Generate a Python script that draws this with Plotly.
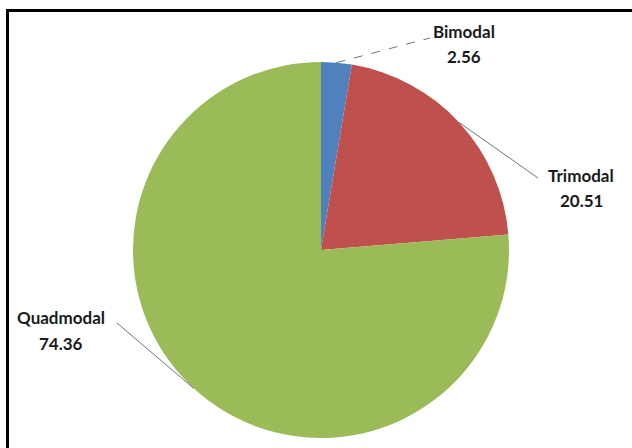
import math
import plotly.graph_objects as go

labels = ["Bimodal", "Trimodal", "Quadmodal"]
values = [2.56, 20.51, 74.36]
colors = ["#4F81BD", "#C0504D", "#9BBB59"]

W, H = 632, 448
cx, cy, r = 321, 250, 188  # pie centre / radius in px

# label positions (px): name centre, value centre, leader-line end, dash style
label_pos = {
    "Bimodal": (464, 31, 57, (430, 38), "dash"),
    "Trimodal": (581, 175, 200, (538, 178), "solid"),
    "Quadmodal": (61, 317, 343, (117, 323), "solid"),
}

def px(x):
    return x / W

def py(y):
    return 1 - y / H

fig = go.Figure(go.Pie(
    labels=labels, values=values, sort=False, direction="clockwise", rotation=0,
    marker=dict(colors=colors, line=dict(width=0)),
    textinfo="none", hoverinfo="label+value", showlegend=False,
    domain=dict(x=[px(cx - r), px(cx + r)], y=[py(cy + r), py(cy - r)]),
))

shapes = [
    dict(type="line", xref="paper", yref="paper", x0=px(7.5), x1=px(7.5), y0=py(9), y1=py(460),
         line=dict(color="black", width=3)),
    dict(type="line", xref="paper", yref="paper", x0=px(6), x1=px(640), y0=py(10.5), y1=py(10.5),
         line=dict(color="black", width=3)),
]
annotations = []
total = sum(values)
cum = 0.0
for lab, v in zip(labels, values):
    mid = (cum + v / 2) / total * 2 * math.pi
    cum += v
    tx = cx + r * math.sin(mid)
    ty = cy - r * math.cos(mid)
    nx, ny1, ny2, (ex, ey), dash = label_pos[lab]
    shapes.append(dict(type="line", xref="paper", yref="paper", x0=px(tx), y0=py(ty), x1=px(ex), y1=py(ey),
                       line=dict(color="#505050", width=0.8, dash=dash)))
    for txt, yy in ((lab, ny1), (f"{v:.2f}", ny2)):
        annotations.append(dict(xref="paper", yref="paper", x=px(nx), y=py(yy), text=f"<b>{txt}</b>",
                                showarrow=False, xanchor="center", yanchor="middle",
                                font=dict(family="Lato", size=17, color="#1a1a1a")))

fig.update_layout(width=W, height=H, margin=dict(l=0, r=0, t=0, b=0),
                  paper_bgcolor="white", plot_bgcolor="white",
                  shapes=shapes, annotations=annotations)
fig.write_html("out.html")
